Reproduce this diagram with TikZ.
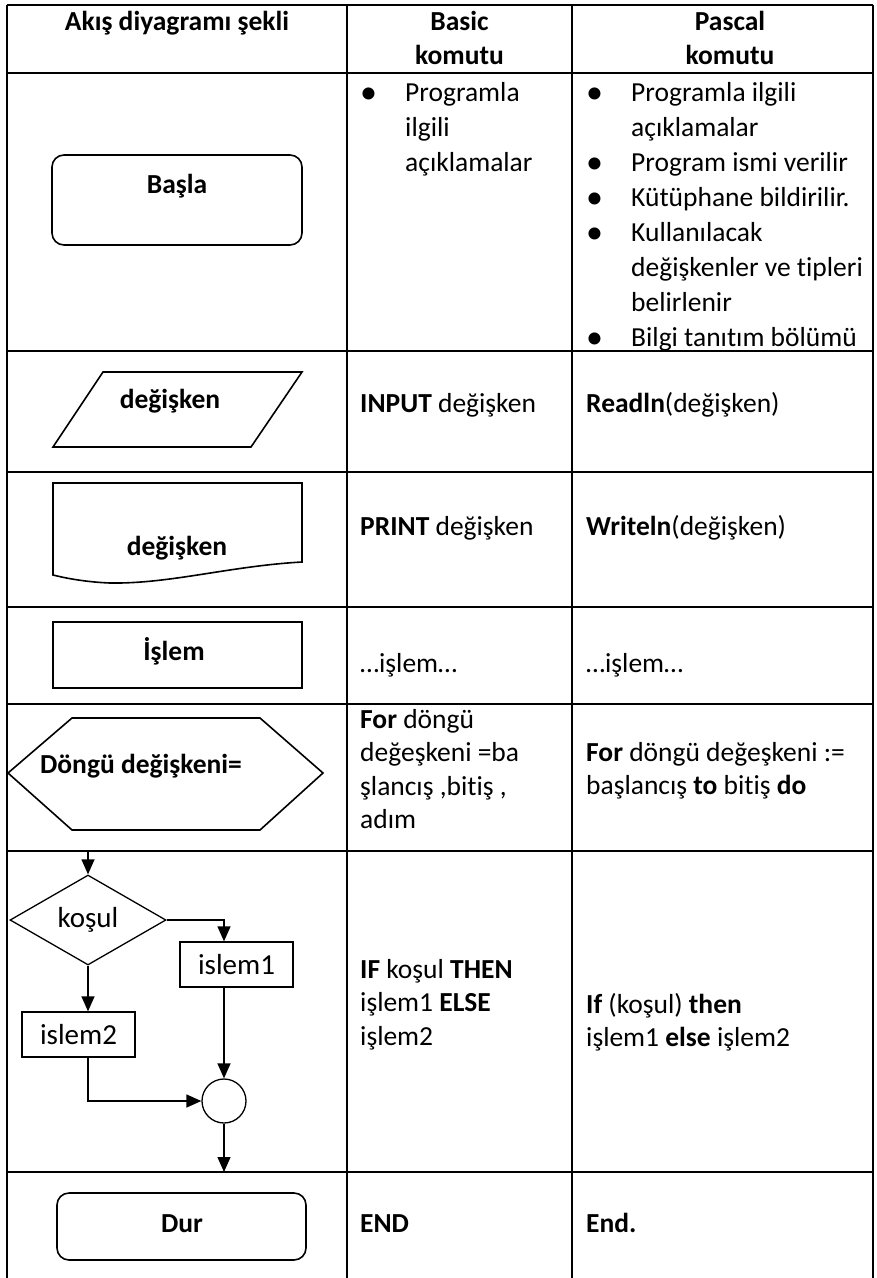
\documentclass[tikz,border=0pt]{standalone}
\usepackage{fontspec}
\setmainfont{Carlito}[Ligatures=NoCommon]
\usetikzlibrary{shapes.geometric,arrows.meta}
\newcommand{\madde}{\raisebox{-2pt}{\fontsize{34}{34}\selectfont •}}
\tikzset{
  grid/.style={line width=2.2pt},
  shp/.style={draw, line width=1.6pt},
  lbl/.style={anchor=base, inner sep=0pt, font=\fontsize{27.5}{34}\selectfont\bfseries},
  cell/.style={anchor=north west, inner sep=0pt, align=left, font=\fontsize{27.5}{33.5}\selectfont},
  line/.style={anchor=base west, inner sep=0pt, font=\fontsize{27.5}{33.5}\selectfont},
  box/.style={draw, line width=1.3pt, inner sep=0pt, font=\fontsize{29}{34}\selectfont},
  arr/.style={line width=1.3pt, -{Triangle[length=15pt,width=13pt]}}
}
\begin{document}
\begin{tikzpicture}[x=1pt,y=-1pt]
\useasboundingbox (0,0) rectangle (877,1278);
\draw[grid] (7,5) -- (873,5);
\draw[grid] (7,5) -- (7,1278);
\draw[grid] (347,5) -- (347,1278);
\draw[grid] (572,5) -- (572,1278);
\draw[grid] (873,5) -- (873,1278);
\foreach \y in {73,351,472,607,704,851,1172}
  \draw[grid] (7,\y) -- (873,\y);

\node[lbl] (h1) at (177,30) {Akış diyagramı şekli};
\node[lbl, anchor=north, align=center, font=\fontsize{27.5}{34}\selectfont\bfseries] (h2) at (459.5,6.2) {\strut Basic\\komutu};
\node[lbl, anchor=north, align=center, font=\fontsize{27.5}{34}\selectfont\bfseries] (h3) at (730,6.2) {\strut Pascal\\komutu};

\draw[shp, rounded corners=12pt] (52,155) rectangle (302,245);
\node[lbl] (basla) at (177,193) {Başla};
\node[cell, font=\fontsize{27.5}{35}\selectfont] (b1) at (360,76.5) {\begin{tabular}{@{}p{45pt}@{}l@{}}
\madde & Programla\\
  & ilgili\\
  & açıklamalar
\end{tabular}};
\node[cell, font=\fontsize{27.5}{35}\selectfont] (p1) at (586,76.5) {\begin{tabular}{@{}p{45pt}@{}l@{}}
\madde & Programla ilgili\\
  & açıklamalar\\
\madde & Program ismi verilir\\
\madde & Kütüphane bildirilir.\\
\madde & Kullanılacak\\
  & değişkenler ve tipleri\\
  & belirlenir\\
\madde & Bilgi tanıtım bölümü
\end{tabular}};

\draw[shp] (103,372) -- (302,372) -- (251,447) -- (53,447) -- cycle;
\node[lbl] (girdi) at (170,408) {değişken};
\node[line] (b2) at (360,412) {\textbf{INPUT} değişken};
\node[line] (p2) at (586,412) {\textbf{Readln}(değişken)};

\draw[shp] (53,483) -- (302,483) -- (302,562) .. controls (230,566) and (170,584) .. (110,583)
  .. controls (85,582) and (65,578) .. (53,575) -- cycle;
\node[lbl] (cikti) at (177,555) {değişken};
\node[line] (b3) at (360,535) {\textbf{PRINT} değişken};
\node[line] (p3) at (586,535) {\textbf{Writeln}(değişken)};

\draw[shp] (53,622) rectangle (302,688);
\node[lbl] (islem) at (174,660) {İşlem};
\node[line] (b4) at (360,672) {…işlem…};
\node[line] (p4) at (586,672) {…işlem…};

\draw[shp] (72,718) -- (260,718) -- (323,773) -- (260,830) -- (72,830) -- (8,773) -- cycle;
\node[lbl] (dongu) at (141,773) {Döngü değişkeni=};
\node[cell] (b5) at (360,704.5) {\strut\textbf{For} döngü\\değeşkeni =ba\\şlancış ,bitiş ,\\adım};
\node[cell] (p5) at (586,737.5) {\strut\textbf{For} döngü değeşkeni :=\\başlancış \textbf{to} bitiş \textbf{do}};

\coordinate (giris) at (88,851);
\coordinate (cikis) at (224,1172);
\node[box, diamond, minimum width=156pt, minimum height=90pt] (kosul) at (88,920) {koşul};
\node[box, minimum width=113pt, minimum height=45pt] (islem1) at (236.5,964.5) {islem1};
\node[box, minimum width=113pt, minimum height=45pt] (islem2) at (78.5,1034.5) {islem2};
\node[box, circle, minimum size=44pt] (birles) at (224,1101) {};
\draw[arr] (giris) -- (kosul);
\draw[arr] (kosul.east) -| (birles |- islem1.north);
\draw[arr] (kosul.south) -- (kosul.south |- islem2.north);
\draw[arr] (birles |- islem1.south) -- (birles.north);
\draw[arr] (kosul.south |- islem2.south) |- (birles.west);
\draw[arr] (birles) -- (cikis);
\node[cell] (b6) at (360,954.5) {\strut\textbf{IF} koşul \textbf{THEN}\\işlem1 \textbf{ELSE}\\işlem2};
\node[cell] (p6) at (586,989.5) {\strut\textbf{If} (koşul) \textbf{then}\\işlem1 \textbf{else} işlem2};

\draw[shp, rounded corners=12pt] (57,1193) rectangle (306,1260);
\node[lbl] (dur) at (182,1232) {Dur};
\node[line] (b7) at (360,1232) {\textbf{END}};
\node[line] (p7) at (586,1232) {\textbf{End.}};
\end{tikzpicture}
\end{document}
